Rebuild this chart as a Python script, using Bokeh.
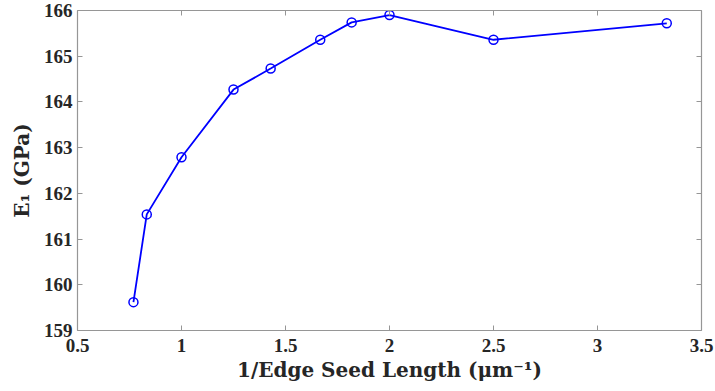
from bokeh.plotting import figure
from bokeh.models import LinearAxis, Range1d, FixedTicker
from bokeh.embed import file_html
from bokeh.resources import INLINE

# data
inv_seed_length = [0.769, 0.833, 1.0, 1.25, 1.4286, 1.667, 1.818, 2.0, 2.5, 3.333]
e1_gpa = [159.62, 161.54, 162.79, 164.27, 164.73, 165.36, 165.74, 165.90, 165.36, 165.72]
x_ticks = [0.5, 1, 1.5, 2, 2.5, 3, 3.5]
y_ticks = [159, 160, 161, 162, 163, 164, 165, 166]

FONT = "Liberation Serif"
LABEL_FONT = "DejaVu Serif"
AX_COLOR = "#969696"
TXT_COLOR = "#262626"

p = figure(width=715, height=391, output_backend="svg", toolbar_location=None,
           x_range=Range1d(0.5, 3.5), y_range=Range1d(159, 166),
           min_border_left=77, min_border_right=14, min_border_top=10, min_border_bottom=61)
p.grid.visible = False
p.outline_line_color = None
p.background_fill_color = "white"
p.border_fill_color = "white"

p.line(inv_seed_length, e1_gpa, line_color="#0000ff", line_width=1.8)
p.scatter(inv_seed_length, e1_gpa, marker="circle", size=9, fill_color=None,
          line_color="#0000ff", line_width=1.5)

def style(ax, ticks, show_labels):
    ax.ticker = FixedTicker(ticks=ticks)
    ax.axis_line_color = AX_COLOR
    ax.axis_line_width = 1.2
    ax.major_tick_line_color = AX_COLOR
    ax.major_tick_in = 5
    ax.major_tick_out = 0
    ax.minor_tick_line_color = None
    ax.major_label_text_font = FONT
    ax.major_label_text_font_style = "bold"
    ax.major_label_text_color = TXT_COLOR
    ax.major_label_text_font_size = "19px"
    if not show_labels:
        ax.major_label_overrides = {t: "" for t in ticks}
        ax.major_label_standoff = 0

xa = p.xaxis[0]
ya = p.yaxis[0]
style(xa, x_ticks, True)
style(ya, y_ticks, True)
xa.major_label_standoff = 8
ya.major_label_standoff = 5

xa.axis_label = "1/Edge Seed Length (μm⁻¹)"
ya.axis_label = "E₁ (GPa)"
for ax in (xa, ya):
    ax.axis_label_text_font = LABEL_FONT
    ax.axis_label_text_font_style = "bold"
    ax.axis_label_text_font_size = "20px"
    ax.axis_label_text_color = TXT_COLOR
xa.axis_label_standoff = 3
ya.axis_label_standoff = 7

top = LinearAxis()
right = LinearAxis()
style(top, x_ticks, False)
style(right, y_ticks, False)
p.add_layout(top, "above")
p.add_layout(right, "right")

open("out.html", "w").write(file_html(p, INLINE))
